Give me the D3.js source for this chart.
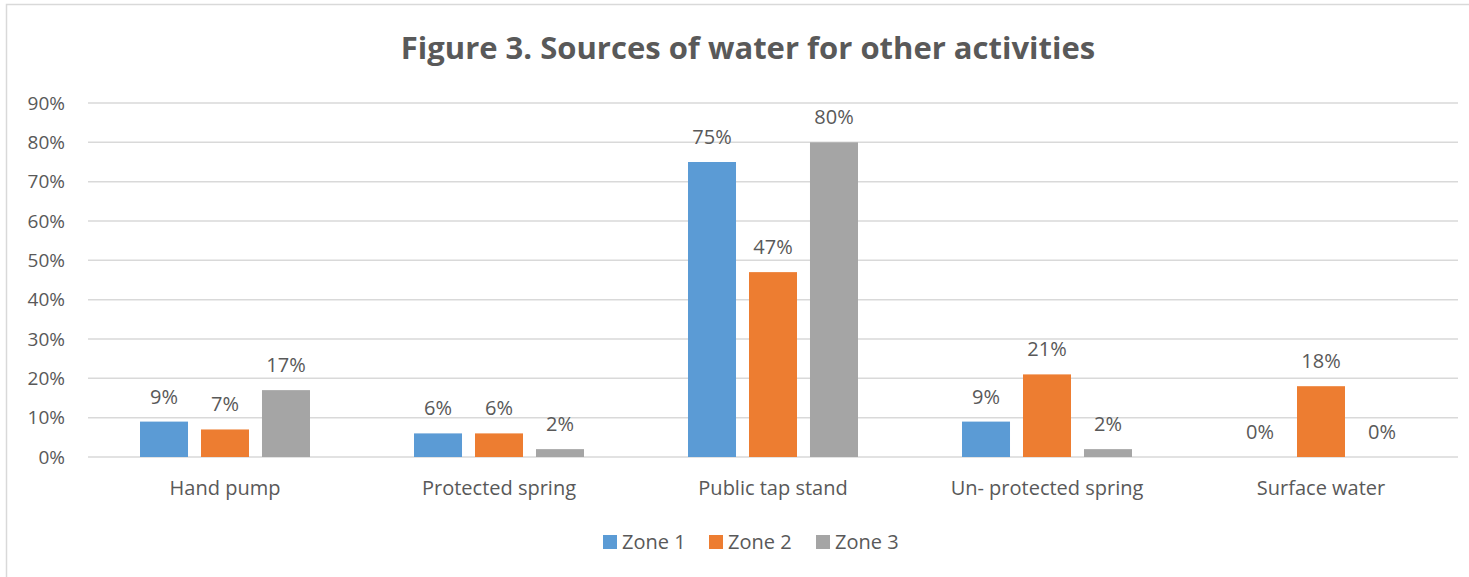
<!DOCTYPE html>
<html>
<head>
<meta charset="utf-8">
<script src="https://cdn.jsdelivr.net/npm/d3@7"></script>
<style>
  body { margin: 0; background: #fff; }
  text { font-family: "Open Sans", "Liberation Sans", sans-serif; fill: #595959; }
</style>
</head>
<body>
<div id="chart"></div>
<script>
const categories = ['Hand pump', 'Protected spring', 'Public tap stand', 'Un- protected spring', 'Surface water'];
const seriesNames = ['Zone 1', 'Zone 2', 'Zone 3'];
const zone1 = [9, 6, 75, 9, 0];
const zone2 = [7, 6, 47, 21, 18];
const zone3 = [17, 2, 80, 2, 0];
const yTicks = [0, 10, 20, 30, 40, 50, 60, 70, 80, 90];
const colors = ['#5B9BD5', '#ED7D31', '#A5A5A5'];

const series = [zone1, zone2, zone3];

const width = 1469, height = 577;
const plot = { left: 88, right: 1458, top: 103, bottom: 457 };

const svg = d3.select('#chart')
  .append('svg')
  .attr('width', width)
  .attr('height', height);

// chart frame
svg.append('rect')
  .attr('x', 6.5).attr('y', 4.5)
  .attr('width', width + 10).attr('height', height + 10)
  .attr('fill', 'none')
  .attr('stroke', '#d9d9d9')
  .attr('stroke-width', 1.5);

svg.append('text')
  .attr('x', 748).attr('y', 59)
  .attr('text-anchor', 'middle')
  .style('font-size', '31px')
  .style('font-weight', 'bold')
  .text('Figure 3. Sources of water for other activities');

const x0 = d3.scaleBand()
  .domain(categories)
  .range([plot.left, plot.right])
  .paddingInner(0.3796)
  .paddingOuter(0.1898);

const x1 = d3.scaleBand()
  .domain(seriesNames)
  .range([0, x0.bandwidth()])
  .paddingInner(0.213);

const y = d3.scaleLinear()
  .domain([0, 90])
  .range([plot.bottom, plot.top]);

// gridlines
svg.append('g')
  .selectAll('line')
  .data(yTicks)
  .enter().append('line')
    .attr('x1', plot.left).attr('x2', plot.right)
    .attr('y1', d => y(d)).attr('y2', d => y(d))
    .attr('stroke', '#d9d9d9')
    .attr('stroke-width', 1.5);

const yAxis = d3.axisLeft(y)
  .tickValues(yTicks)
  .tickSize(0)
  .tickPadding(23)
  .tickFormat(d => d + '%');

svg.append('g')
  .attr('transform', 'translate(' + plot.left + ',0)')
  .call(yAxis)
  .call(g => g.select('.domain').remove())
  .selectAll('text')
    .style('font-size', '19px')
    .style('fill', '#595959');

const xAxis = d3.axisBottom(x0)
  .tickSize(0)
  .tickPadding(24);

svg.append('g')
  .attr('transform', 'translate(0,' + plot.bottom + ')')
  .call(xAxis)
  .call(g => g.select('.domain').remove())
  .selectAll('text')
    .style('font-size', '20px')
    .style('fill', '#595959');

const groups = svg.selectAll('.group')
  .data(categories)
  .enter().append('g')
    .attr('class', 'group')
    .attr('transform', d => 'translate(' + x0(d) + ',0)');

seriesNames.forEach((name, si) => {
  groups.append('rect')
    .attr('x', x1(name))
    .attr('y', (d, ci) => y(series[si][ci]))
    .attr('width', x1.bandwidth())
    .attr('height', (d, ci) => plot.bottom - y(series[si][ci]))
    .attr('fill', colors[si]);

  groups.append('text')
    .attr('x', x1(name) + x1.bandwidth() / 2)
    .attr('y', (d, ci) => y(series[si][ci]) - 18)
    .attr('text-anchor', 'middle')
    .style('font-size', '20px')
    .text((d, ci) => series[si][ci] + '%');
});

// legend
const legend = svg.append('g')
  .attr('transform', 'translate(603,535)');

const legendX = [0, 106, 213];
seriesNames.forEach((name, i) => {
  legend.append('rect')
    .attr('x', legendX[i]).attr('y', 0)
    .attr('width', 14).attr('height', 14)
    .attr('fill', colors[i]);
  legend.append('text')
    .attr('x', legendX[i] + 19).attr('y', 14)
    .style('font-size', '20px')
    .text(name);
});
</script>
</body>
</html>
